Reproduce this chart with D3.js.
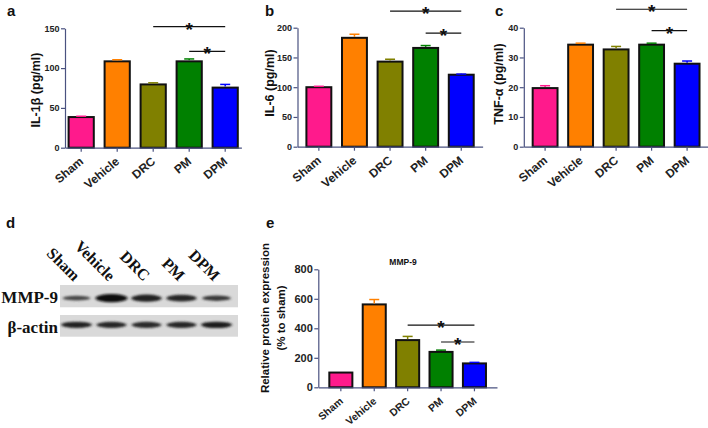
<!DOCTYPE html>
<html>
<head>
<meta charset="utf-8">
<script src="https://cdn.jsdelivr.net/npm/d3@7"></script>
<style>
  body { margin: 0; background: #fff; }
  svg { display: block; }
  text { font-family: "Liberation Sans", Arial, sans-serif; font-weight: bold; }
</style>
</head>
<body>
<svg id="fig" width="708" height="428"></svg>
<script>
// groups shared by all panels
const groups = ["Sham", "Vehicle", "DRC", "PM", "DPM"]

// panel a: IL-1β
const il1bMean = [38.5, 108.5, 79.5, 108.5, 75.5]
const il1bErr = [1, 2, 2, 3, 4]
const il1bTicks = [0, 50, 100, 150]
// panel b: IL-6
const il6Mean = [100, 183, 143, 166, 121]
const il6Err = [1.5, 6, 4, 4, 1]
const il6Ticks = [0, 50, 100, 150, 200]
// panel c: TNF-α
const tnfMean = [19.7, 34.3, 32.7, 34.3, 27.9]
const tnfErr = [0.8, 0.5, 1, 0.5, 0.9]
const tnfTicks = [0, 10, 20, 30, 40]
// panel e: MMP-9 relative expression
const mmp9Mean = [100, 562, 320, 240, 162]
const mmp9Err = [0, 33, 25, 12, 7]
const mmp9Ticks = [0, 200, 400, 600, 800]

// significance brackets: [from, to, level]
const il1bSig = [["DRC", "DPM", 152], ["PM", "DPM", 121]]
const il6Sig = [["DRC", "DPM", 228], ["PM", "DPM", 191]]
const tnfSig = [["DRC", "DPM", 46.2], ["PM", "DPM", 39]]
const mmp9Sig = [["DRC", "DPM", 422], ["PM", "DPM", 307]]

// panel d: western blot band densities (relative)
const mmp9Band = [0.4, 1.0, 0.8, 0.75, 0.55]
const actinBand = [0.8, 0.75, 0.72, 0.75, 0.85]

const barColors = ["#ff1a8c", "#ff8000", "#808000", "#008000", "#0000ff"]
const axisColor = "#4a5280"

const svg = d3.select("#fig")

function barPanel(cfg) {
  const g = svg.append("g")
  const step = cfg.step
  const x1 = cfg.x0 + step * (groups.length - cfg.pi + 2 * cfg.po)
  const x = d3.scaleBand().domain(groups).range([cfg.x0, x1])
    .paddingInner(cfg.pi).paddingOuter(cfg.po)
  const y = d3.scaleLinear().domain([0, d3.max(cfg.ticks)]).range([cfg.y0, cfg.y1])

  // bars
  g.selectAll(".bar").data(groups).enter().append("rect")
    .attr("x", (d) => x(d))
    .attr("y", (d, i) => y(cfg.mean[i]))
    .attr("width", x.bandwidth())
    .attr("height", (d, i) => y(0) - y(cfg.mean[i]))
    .attr("fill", (d, i) => barColors[i])
    .attr("stroke", "#111")
    .attr("stroke-width", 2)

  // error bars (upper half only)
  groups.forEach((d, i) => {
    if (!cfg.err[i]) return
    const cx = x(d) + x.bandwidth() / 2
    const top = y(cfg.mean[i] + cfg.err[i])
    g.append("line").attr("x1", cx).attr("x2", cx)
      .attr("y1", y(cfg.mean[i]) - 1).attr("y2", top)
      .attr("stroke", barColors[i]).attr("stroke-width", 1.5)
    g.append("line").attr("x1", cx - 5).attr("x2", cx + 5)
      .attr("y1", top).attr("y2", top)
      .attr("stroke", barColors[i]).attr("stroke-width", 1.5)
  })

  // y axis
  const yAxis = g.append("g").attr("transform", `translate(${cfg.x0},0)`)
    .call(d3.axisLeft(y).tickValues(cfg.ticks).tickSize(4).tickSizeOuter(0).tickPadding(1.5))
  yAxis.select(".domain").attr("stroke", axisColor).attr("stroke-width", 1.2)
  yAxis.selectAll(".tick line").attr("stroke", axisColor).attr("stroke-width", 1.2)
  yAxis.selectAll(".tick text").attr("fill", "#222")
    .style("font-size", cfg.tickFont + "px").style("font-family", "Liberation Sans, Arial, sans-serif")
    .style("font-weight", "bold")

  // x axis
  const xAxis = g.append("g").attr("transform", `translate(0,${cfg.y0})`)
    .call(d3.axisBottom(x).tickSize(4).tickSizeOuter(0).tickFormat(""))
  xAxis.select(".domain").attr("stroke", axisColor).attr("stroke-width", 1.2)
  xAxis.selectAll(".tick line").attr("stroke", axisColor).attr("stroke-width", 1.2)

  // x tick labels, rotated
  groups.forEach((d) => {
    const cx = x(d) + x.bandwidth() / 2 + 3
    g.append("text")
      .attr("transform", `translate(${cx},${cfg.y0 + 15}) rotate(-40)`)
      .attr("text-anchor", "end")
      .attr("fill", "#222")
      .style("font-size", cfg.xFont + "px")
      .text(d)
  })

  // y label
  cfg.ylabel.forEach((t, k) => {
    g.append("text")
      .attr("transform", `translate(${cfg.labelX + k * 16},${cfg.labelY}) rotate(-90)`)
      .attr("text-anchor", "middle")
      .attr("fill", "#111")
      .style("font-size", cfg.labelFont + "px")
      .text(t)
  })

  // significance lines and stars
  cfg.sig.forEach((s) => {
    const xa = x(s[0]) + x.bandwidth() / 2
    const xb = x(s[1]) + x.bandwidth() / 2
    const ly = y(s[2])
    g.append("line").attr("x1", xa).attr("x2", xb).attr("y1", ly).attr("y2", ly)
      .attr("stroke", "#111").attr("stroke-width", 1.2)
    g.append("text").attr("x", (xa + xb) / 2).attr("y", ly + 9)
      .attr("text-anchor", "middle").attr("fill", "#111")
      .style("font-size", "19px").text("*")
  })

  if (cfg.title) {
    g.append("text").attr("x", cfg.titleX).attr("y", cfg.titleY)
      .attr("text-anchor", "middle").attr("fill", "#111")
      .style("font-size", "8.5px").text(cfg.title)
  }
}

barPanel({ x0: 65, step: 36, pi: 0.3, po: 0.1, y0: 147.7, y1: 28.3,
  mean: il1bMean, err: il1bErr, ticks: il1bTicks, sig: il1bSig,
  ylabel: ["IL-1β (pg/ml)"], labelX: 40, labelY: 90, labelFont: 12.5, tickFont: 9, xFont: 12 })

barPanel({ x0: 297.5, step: 35.6, pi: 0.3, po: 0.25, y0: 146.7, y1: 27.7,
  mean: il6Mean, err: il6Err, ticks: il6Ticks, sig: il6Sig,
  ylabel: ["IL-6 (pg/ml)"], labelX: 274, labelY: 83, labelFont: 12.5, tickFont: 9, xFont: 12 })

barPanel({ x0: 523.8, step: 35.5, pi: 0.3, po: 0.25, y0: 146.7, y1: 27.7,
  mean: tnfMean, err: tnfErr, ticks: tnfTicks, sig: tnfSig,
  ylabel: ["TNF-α (pg/ml)"], labelX: 503, labelY: 84, labelFont: 12.5, tickFont: 9, xFont: 12 })

barPanel({ x0: 318.3, step: 33.4, pi: 0.31, po: 0.33, y0: 387.3, y1: 269.3,
  mean: mmp9Mean, err: mmp9Err, ticks: mmp9Ticks, sig: mmp9Sig,
  ylabel: ["Relative protein expression", "(% to sham)"], labelX: 269, labelY: 318,
  labelFont: 11.5, tickFont: 11, xFont: 10.5, title: "MMP-9", titleX: 403, titleY: 265 })

// panel letters
const letters = [["a", 7, 16], ["b", 265, 16], ["c", 495, 16], ["d", 6, 228], ["e", 266, 228]]
svg.selectAll(".letter").data(letters).enter().append("text")
  .attr("x", (d) => d[1]).attr("y", (d) => d[2])
  .attr("fill", "#111").style("font-size", "15px").text((d) => d[0])

// panel d: western blot
const defs = svg.append("defs")
defs.append("filter").attr("id", "blur").attr("x", "-30%").attr("y", "-100%")
  .attr("width", "160%").attr("height", "300%")
  .append("feGaussianBlur").attr("stdDeviation", "1.4 0.8")

const lane = d3.scaleBand().domain(groups).range([59, 234])
const blot = svg.append("g")
const strips = [[285, 22.3, mmp9Band, "MMP-9"], [315, 21.7, actinBand, "β-actin"]]
strips.forEach((s, k) => {
  blot.append("rect").attr("x", 60).attr("y", s[0]).attr("width", 178).attr("height", s[1])
    .attr("fill", "#d9d9d9")
  const cy = s[0] + s[1] / 2 + (k === 0 ? 2 : -1)
  blot.selectAll(null).data(groups).enter().append("ellipse")
    .attr("cx", (d) => lane(d) + lane.bandwidth() / 2)
    .attr("cy", cy)
    .attr("rx", (d, i) => 12 + 4 * s[2][i])
    .attr("ry", (d, i) => (k === 0 ? 1 + 3.2 * s[2][i] : 2.2 + 1.2 * s[2][i]))
    .attr("fill", (d, i) => d3.interpolateRgb("#6a6a6a", "#111")(s[2][i]))
    .attr("filter", "url(#blur)")
  blot.append("text")
    .attr("x", 58).attr("y", s[0] + 18).attr("text-anchor", "end")
    .attr("fill", "#111").style("font-size", "17px")
    .style("font-family", "Liberation Serif, Times New Roman, serif").text(s[3])
})

groups.forEach((d) => {
  const cx = lane(d) + lane.bandwidth() / 2 - 3
  blot.append("text")
    .attr("transform", `translate(${cx},282) rotate(45)`)
    .attr("text-anchor", "end").attr("fill", "#111")
    .style("font-size", "16px")
    .style("font-family", "Liberation Serif, Times New Roman, serif")
    .text(d)
})
</script>
</body>
</html>
